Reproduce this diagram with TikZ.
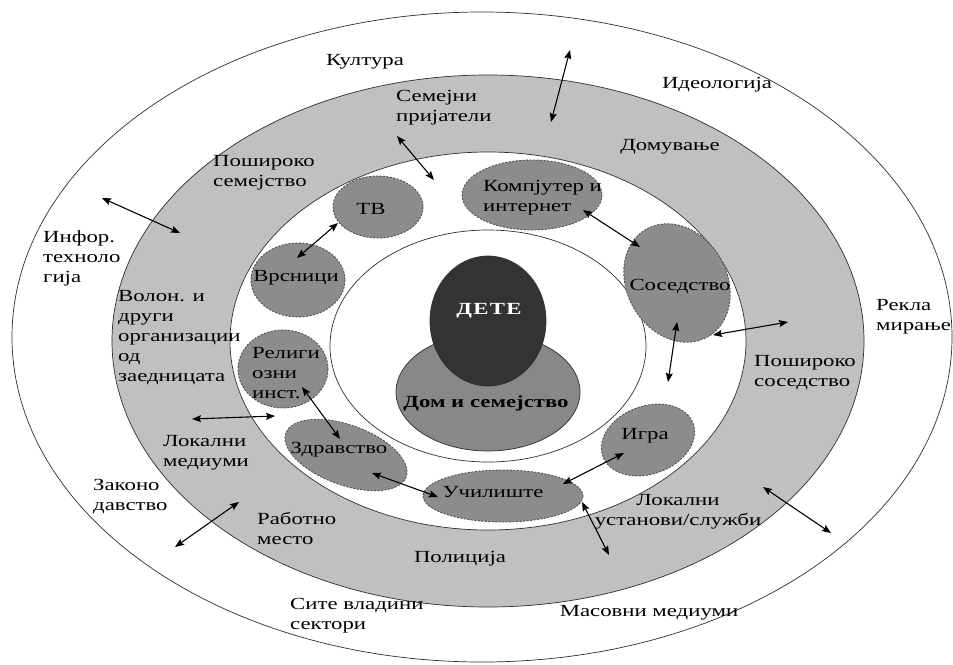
\documentclass[tikz,border=0pt]{standalone}
\usepackage{fontspec}
\setmainfont{Liberation Serif}[FakeStretch=1.34]
\usepackage{tikz}
\usetikzlibrary{arrows.meta}
\definecolor{edge}{HTML}{2E2E2E}
\definecolor{ring}{HTML}{C0C0C0}
\definecolor{home}{HTML}{888888}
\definecolor{kid}{HTML}{333333}
\definecolor{bubfill}{HTML}{8C8C8C}
\definecolor{bubedge}{HTML}{505050}
\tikzset{
  >={Stealth[length=9pt,width=7pt,inset=1.5pt]},
  orbit/.style={draw=edge,line width=0.7pt},
  bub/.style={draw=bubedge,fill=bubfill,line width=0.9pt,dash pattern=on 2pt off 1.5pt},
  lab/.style={font=\fontsize{17}{20}\selectfont,align=left,inner sep=0pt},
  clab/.style={lab,align=center},
  arr/.style={<->,draw=black,line width=1.1pt},
}
\begin{document}
\begin{tikzpicture}[x=1pt,y=-1pt]
\useasboundingbox (0,0) rectangle (953,664);
\draw[orbit,fill=white] (482,337) ellipse [x radius=470,y radius=325];
\draw[orbit,fill=ring] (488,341) ellipse [x radius=376,y radius=266];
\draw[orbit,fill=white] (488,341) ellipse [x radius=258,y radius=189];
\draw[orbit,fill=white] (488,346) ellipse [x radius=158,y radius=116];
\draw[orbit,fill=home] (488,392) ellipse [x radius=92,y radius=59];
\draw[orbit,fill=kid] (488,321) ellipse [x radius=58,y radius=65];
\foreach \cx/\cy/\rx/\ry/\rot in {378/207/45/31/0,532/195/70/35/0,298/280/47/37/0,677/283/50/62/30,283/369/45/39/0,346/455/64/30/-20,503/496/80/26/0,648/440/48/34/20}
  \draw[bub,rotate around={\rot:(\cx,\cy)}] (\cx,\cy) ellipse [x radius=\rx,y radius=\ry];
\node[clab,text=white,font=\fontsize{17}{20}\selectfont\bfseries\addfontfeature{LetterSpace=8}] (dete) at (489,311) {ДЕТЕ};
\node[clab,font=\fontsize{17}{20}\selectfont\bfseries] (dom) at (486,403) {Дом и семејство};
\foreach \n/\x/\y/\t in {kultura/365/62/Култура,ideo/717/85/Идеологија,domuv/670/147/Домување,tv/371/209/ТВ,vrs/296/278/Врсници,sos/680/287/Соседство,zdr/339/450/Здравство,igra/645/436/Игра,uch/493/492/Училиште,pol/460/559/Полиција,mas/649/613/Масовни медиуми,ustan/678/512/{Локални\\установи/служби}}
  \node[clab] (\n) at (\x,\y) {\t};
\foreach \n/\x/\y/\t in {semprij/396/108/{Семејни\\пријатели},pshsem/213/173/{Пошироко\\семејство},komp/483/198/{Компјутер и\\интернет},infor/43/258/{Инфор.\\техноло\\гија},rekl/876/317/{Рекла\\мирање},volon/118/338/{Волон. и\\други\\организации\\од\\заедницата},relig/252/373/{Религи\\озни\\инст.},pshsos/754/373/{Пошироко\\соседство},lokmed/163/453/{Локални\\медиуми},zakon/93/497/{Законо\\давство},rabot/257/528/{Работно\\место},site/290/616/{Сите владини\\сектори}}
  \node[lab,anchor=west] (\n) at (\x,\y) {\t};
\foreach \n/\ax/\ay/\bx/\by in {top/551/122/570/50,prij/397/136/434/180,inf/102/198/180/233,tvv/297/258/338/223,kos/583/210/640/247,sosr/713/335/788/322,sosd/677/322/668/382,lok/192/419/275/416,rz/302/387/340/439,zu/372/473/438/497,ui/563/484/624/453,ud/582/502/609/555,rb/763/487/831/533,lb/175/547/239/502}{
  \coordinate (\n-a) at (\ax,\ay); \coordinate (\n-b) at (\bx,\by);
  \draw[arr] (\n-a) -- (\n-b);}
\end{tikzpicture}
\end{document}
